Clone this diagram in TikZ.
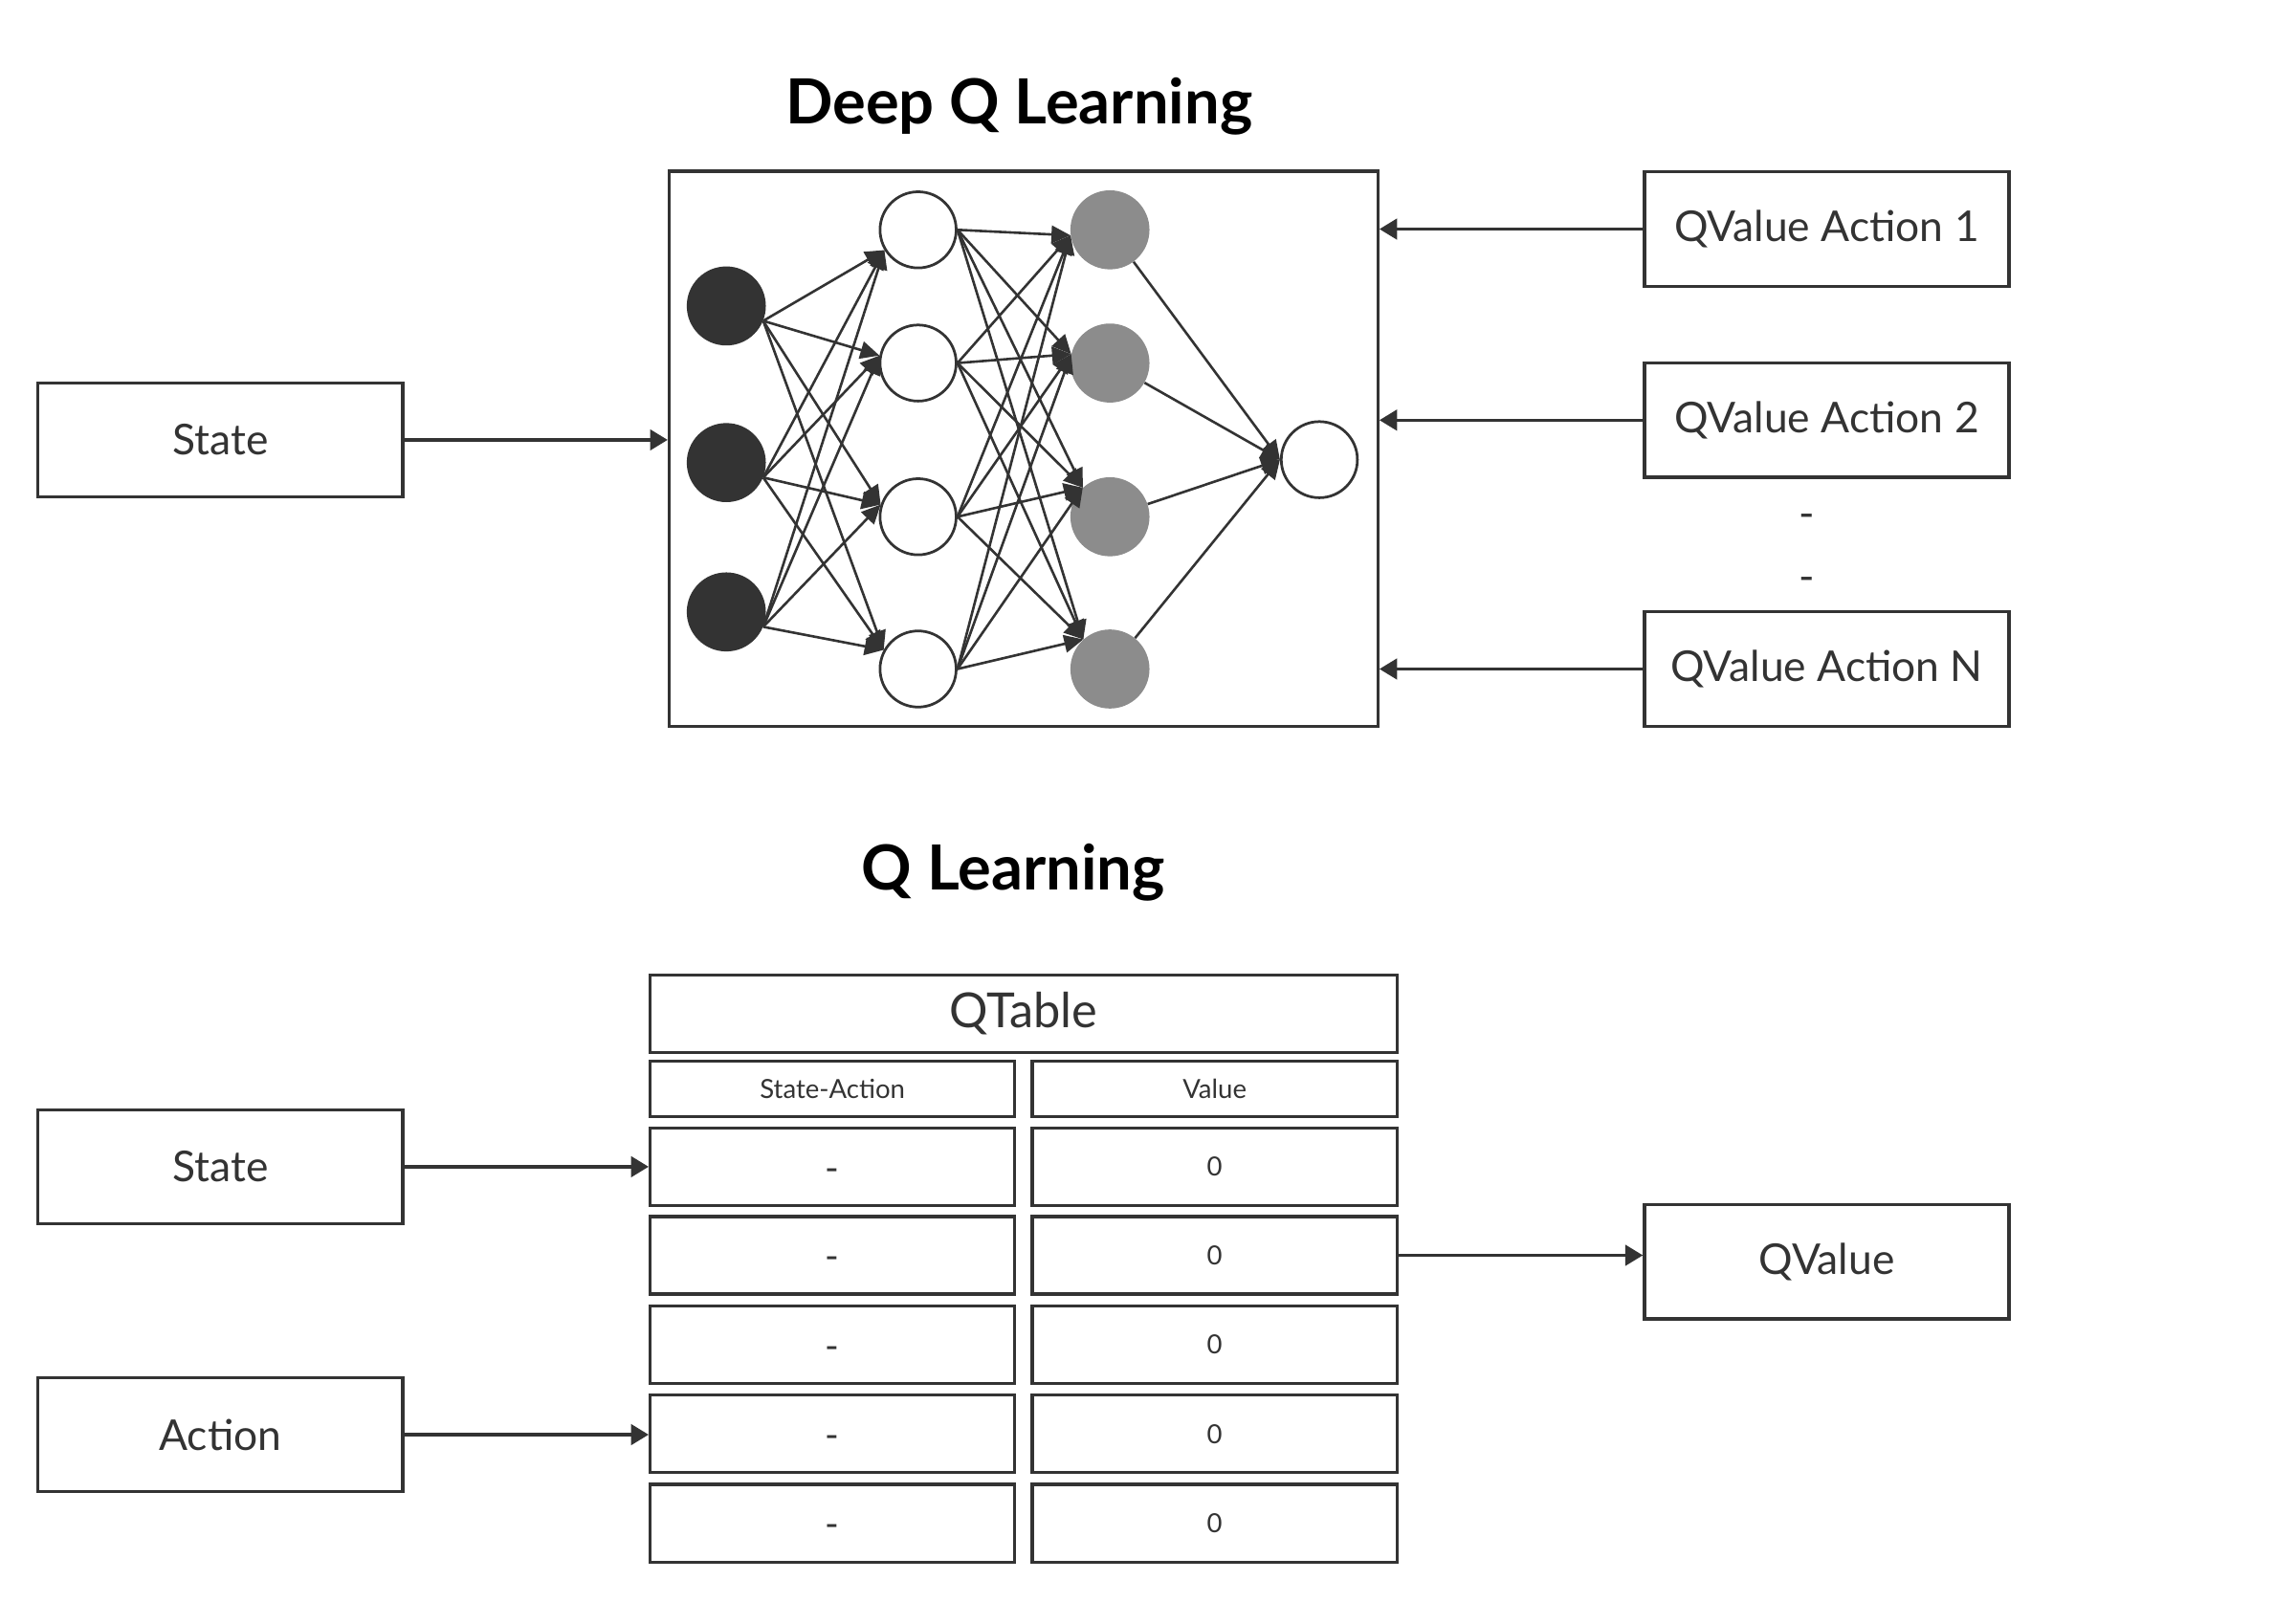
\documentclass[tikz,border=0pt]{standalone}
\usepackage{fontspec}
\setmainfont{Lato}
\usetikzlibrary{arrows.meta}
\definecolor{ink}{HTML}{333333}
\definecolor{graynode}{HTML}{8C8C8C}
\begin{document}
\begin{tikzpicture}[x=1pt,y=-1pt,
  box/.style={draw=ink, line width=2.1pt, minimum width=249pt, minimum height=78pt, inner sep=0pt, text=ink, font=\fontsize{29}{34}\selectfont},
  cell/.style={draw=ink, line width=2.1pt, minimum width=249pt, minimum height=53pt, inner sep=0pt, text=ink, font=\fontsize{18}{21}\selectfont},
  dashtxt/.style={anchor=base, inner sep=0pt, text=ink},
  title/.style={font=\fontsize{42.5}{48}\selectfont\bfseries, text=black},
  arr/.style={draw=ink, line width=2.1pt, -{Triangle[length=12pt,width=14pt]}},
  narr/.style={draw=ink, line width=1.7pt, -{Triangle[length=13pt,width=12pt]}},
  inn/.style={circle, fill=ink, minimum size=54pt, inner sep=0pt},
  hid/.style={circle, draw=ink, fill=white, line width=1.8pt, minimum size=52pt, inner sep=0pt},
  gry/.style={circle, fill=graynode, minimum size=54pt, inner sep=0pt}
]
\useasboundingbox (0,0) rectangle (1568,1093.7);

% ---------- Deep Q Learning ----------
\node[title] (t1) at (696,73) {Deep Q Learning};
\node[draw=ink, line width=2.1pt, minimum width=484pt, minimum height=379pt, inner sep=0pt] (net) at (699,306.5) {};

\node[box] (s1) at (150.5,300.5) {State};
\node[box] (qa1) at (1247.5,156.5) {QValue Action 1};
\node[box] (qa2) at (1247.5,287) {QValue Action 2};
\node[box] (qan) at (1247.5,457) {QValue Action N};
\node[dashtxt, font=\fontsize{29}{34}\selectfont] (d1) at (1234,361) {-};
\node[dashtxt, font=\fontsize{29}{34}\selectfont] (d2) at (1234,404) {-};

\draw[arr] (s1.east) -- (s1.east -| net.west);
\draw[arr] (qa1.west) -- (qa1.west -| net.east);
\draw[arr] (qa2.west) -- (qa2.west -| net.east);
\draw[arr] (qan.west) -- (qan.west -| net.east);

% network nodes
\node[inn] (i1) at (496,209) {};
\node[inn] (i2) at (496,316) {};
\node[inn] (i3) at (496,418) {};
\node[hid] (h1) at (627,157) {};
\node[hid] (h2) at (627,248) {};
\node[hid] (h3) at (627,353) {};
\node[hid] (h4) at (627,457) {};
\node[gry] (g1) at (758,157) {};
\node[gry] (g2) at (758,248) {};
\node[gry] (g3) at (758,353) {};
\node[gry] (g4) at (758,457) {};
\node[hid] (o1) at (901,314) {};

\foreach \a in {1,2,3}{\foreach \b/\ang in {1/211,2/169,3/162,4/151}{\draw[narr] (i\a.-22) -- (h\b.\ang);}}
\foreach \a in {1,2,3,4}{\foreach \b/\ang in {1/188,2/167,3/133,4/132}{\draw[narr] (h\a.east) -- (g\b.\ang);}}
\foreach \a in {1,2,3,4}{\draw[narr] (g\a) -- (o1.west);}

% ---------- Q Learning ----------
\node[title] (t2) at (692,596) {Q Learning};

\node[cell, minimum width=510pt, font=\fontsize{33}{38}\selectfont] (qt) at (699,692.5) {QTable};
\node[cell, minimum height=38pt] (hl) at (568.5,744) {State-Action};
\node[cell, minimum height=38pt] (hr) at (829.5,744) {Value};
\foreach \i/\y in {1/797,2/857.5,3/918.5,4/979.5,5/1040.5}{
  \node[cell] (r\i l) at (568.5,\y) {};
  \node[dashtxt, font=\fontsize{26}{30}\selectfont] (m\i) at ([yshift=-10pt]r\i l.center) {-};
  \node[cell] (r\i r) at (829.5,\y) {0};
}

\node[box] (s2) at (150.5,797) {State};
\node[box] (ac) at (150.5,980) {Action};
\node[box] (qv) at (1247.5,862) {QValue};

\draw[arr] (s2.east) -- (r1l.west);
\draw[arr] (ac.east) -- (ac.east -| r4l.west);
\draw[arr] (r2r.east) -- (r2r.east -| qv.west);
\end{tikzpicture}
\end{document}
